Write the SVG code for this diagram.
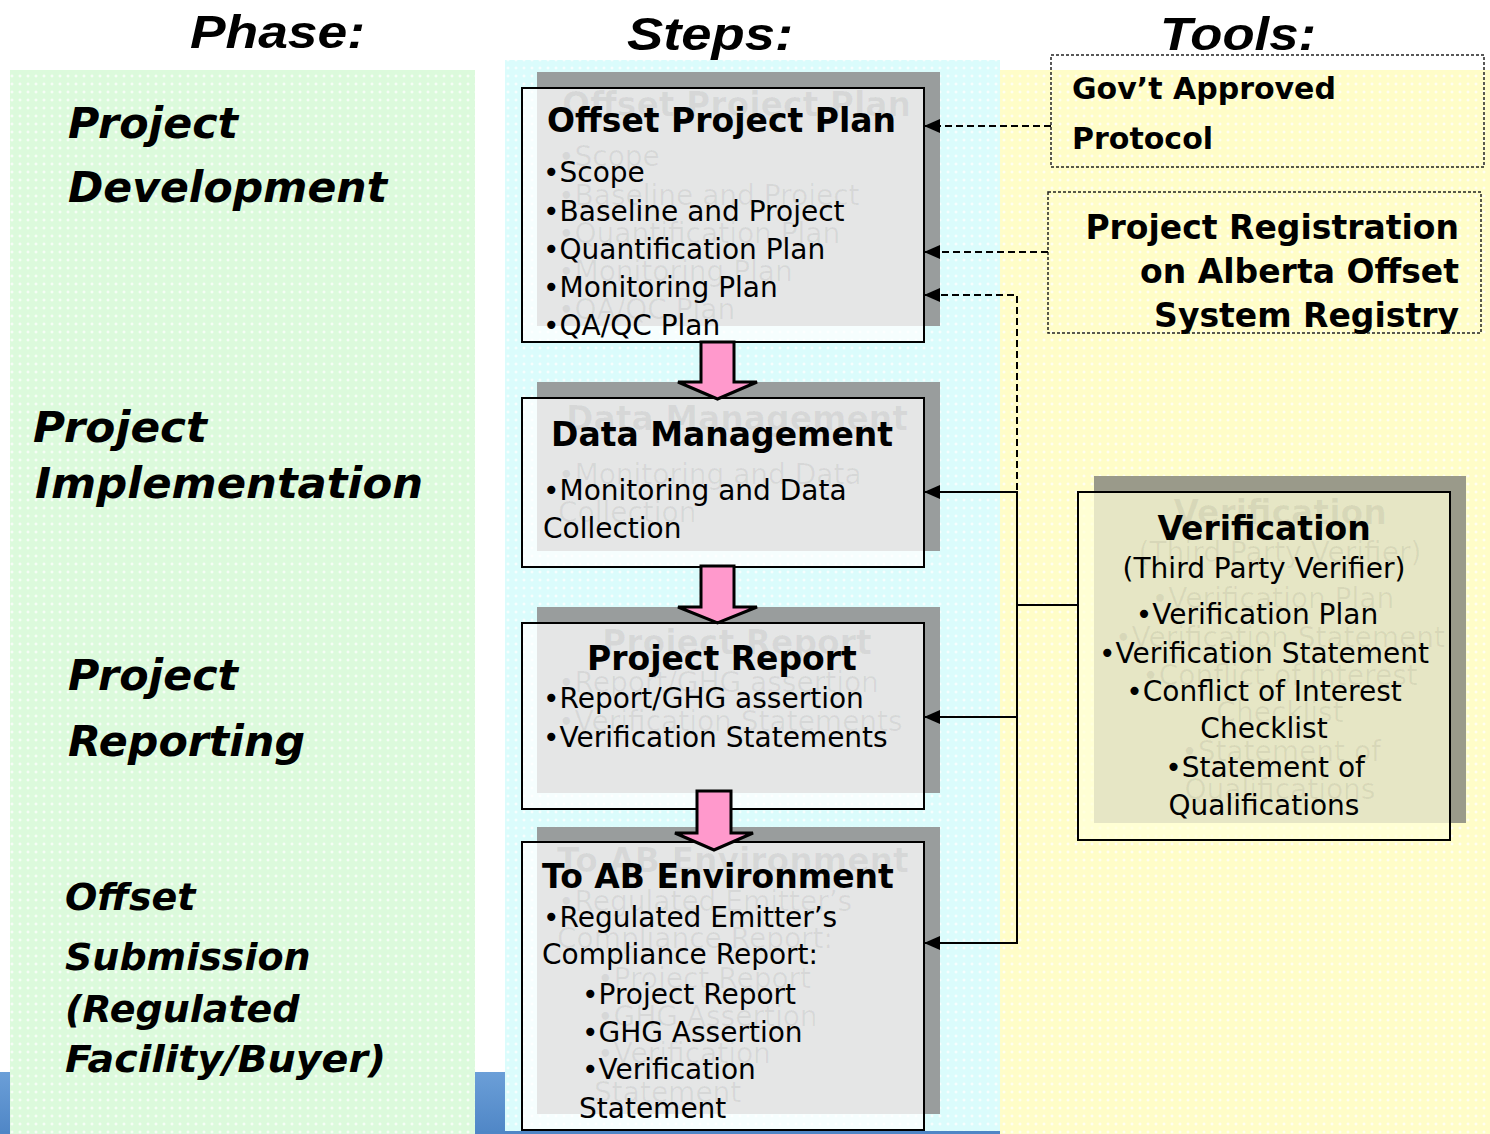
<svg xmlns="http://www.w3.org/2000/svg" width="1490" height="1134" viewBox="0 0 1490 1134">
<defs>
<style>
.title{font-family:"Liberation Sans",Arial,sans-serif;font-weight:bold;font-style:italic;font-size:47px;fill:#000}
.phase{font-family:"DejaVu Sans",Verdana,sans-serif;font-weight:bold;font-style:italic;font-size:42px;fill:#000}
.phs{font-size:38px}
.h{font-family:"DejaVu Sans",Verdana,sans-serif;font-weight:bold;font-size:33px;fill:#000}
.t30{font-size:30px}
.b{font-family:"DejaVu Sans",Verdana,sans-serif;font-size:28px;fill:#000}
.mid{text-anchor:middle}
.end{text-anchor:end}
.shadow{fill:#999d9d}
.vshadow{fill:#9a9a8a}
.front{fill:#fff;fill-opacity:.75;stroke:#000;stroke-width:2}
.vfront{fill:#ffffd8;fill-opacity:.75;stroke:#000;stroke-width:2}
.ghost text{fill:#000;fill-opacity:.06}
.dash{stroke:#000;stroke-width:2;stroke-dasharray:7 4;fill:none}
.solid{stroke:#000;stroke-width:2;fill:none}
.tool{fill:none;stroke:#222;stroke-width:1.5;stroke-dasharray:3 2}
.flow{fill:#ff99cc;stroke:#000;stroke-width:3;stroke-linejoin:miter}
</style>
<pattern id="pg" width="8" height="8" patternUnits="userSpaceOnUse"><rect width="8" height="8" fill="#dcfadc"/><path d="M4 2.5v3M2.5 4h3" stroke="#fff" stroke-width="1"/></pattern>
<pattern id="pc" width="8" height="8" patternUnits="userSpaceOnUse"><rect width="8" height="8" fill="#dbfcfc"/><path d="M4 2.5v3M2.5 4h3" stroke="#fff" stroke-width="1"/></pattern>
<pattern id="py" width="8" height="8" patternUnits="userSpaceOnUse"><rect width="8" height="8" fill="#fffdc8"/><path d="M4 2.5v3M2.5 4h3" stroke="#fff" stroke-width="1"/></pattern>
<linearGradient id="blue" x1="0" y1="0" x2="0" y2="1"><stop offset="0" stop-color="#6b9fd8"/><stop offset="1" stop-color="#4f86c6"/></linearGradient>
<marker id="ah" viewBox="0 0 16 14" refX="16" refY="7" markerWidth="16" markerHeight="14" markerUnits="userSpaceOnUse" orient="auto"><path d="M0,0 L16,7 L0,14 z" fill="#000"/></marker>
</defs>

<g id="background">
<rect x="0" y="0" width="1490" height="1134" fill="#fff"/>
<rect x="0" y="1072" width="505" height="62" fill="url(#blue)"/>
<rect x="0" y="1131" width="1000" height="3" fill="#4f86c6"/>
<rect x="10" y="70" width="465" height="1064" fill="url(#pg)"/>
<rect x="505" y="60" width="495" height="1071" fill="url(#pc)"/>
<rect x="1000" y="70" width="490" height="1064" fill="url(#py)"/>
</g>

<g id="headings">
<text class="title" x="190" y="48" textLength="175" lengthAdjust="spacingAndGlyphs">Phase:</text>
<text class="title" x="627" y="50" textLength="166" lengthAdjust="spacingAndGlyphs">Steps:</text>
<text class="title" x="1160" y="50" textLength="156" lengthAdjust="spacingAndGlyphs">Tools:</text>
</g>

<g id="phase-development">
<text class="phase" x="68" y="138" textLength="170" lengthAdjust="spacingAndGlyphs">Project</text>
<text class="phase" x="68" y="202" textLength="319" lengthAdjust="spacingAndGlyphs">Development</text>
</g>
<g id="phase-implementation">
<text class="phase" x="33" y="442" textLength="174" lengthAdjust="spacingAndGlyphs">Project</text>
<text class="phase" x="35" y="498" textLength="388" lengthAdjust="spacingAndGlyphs">Implementation</text>
</g>
<g id="phase-reporting">
<text class="phase" x="68" y="690" textLength="170" lengthAdjust="spacingAndGlyphs">Project</text>
<text class="phase" x="68" y="756" textLength="237" lengthAdjust="spacingAndGlyphs">Reporting</text>
</g>
<g id="phase-submission">
<text class="phase phs" x="65" y="910">Offset</text>
<text class="phase phs" x="65" y="970">Submission</text>
<text class="phase phs" x="65" y="1022">(Regulated</text>
<text class="phase phs" x="65" y="1072" textLength="321" lengthAdjust="spacingAndGlyphs">Facility/Buyer)</text>
</g>

<g id="step-offset-project-plan">
<rect class="shadow" x="537" y="72" width="403" height="254"/>
<rect class="front" x="522" y="88" width="402" height="254"/>
<g class="ghost" transform="translate(15,-16)">
<text class="h" x="547" y="132">Offset Project Plan</text>
<text class="b" x="543" y="182">•Scope</text>
<text class="b" x="543" y="221">•Baseline and Project</text>
<text class="b" x="543" y="259">•Quantification Plan</text>
<text class="b" x="543" y="297">•Monitoring Plan</text>
<text class="b" x="543" y="335">•QA/QC Plan</text>
</g>
<text class="h" x="547" y="132">Offset Project Plan</text>
<text class="b" x="543" y="182">•Scope</text>
<text class="b" x="543" y="221">•Baseline and Project</text>
<text class="b" x="543" y="259">•Quantification Plan</text>
<text class="b" x="543" y="297">•Monitoring Plan</text>
<text class="b" x="543" y="335">•QA/QC Plan</text>
</g>

<g id="step-data-management">
<rect class="shadow" x="537" y="382" width="403" height="169"/>
<rect class="front" x="522" y="398" width="402" height="169"/>
<g class="ghost" transform="translate(15,-16)">
<text class="h" x="551" y="446">Data Management</text>
<text class="b" x="543" y="500">•Monitoring and Data</text>
<text class="b" x="543" y="538">Collection</text>
</g>
<text class="h" x="551" y="446">Data Management</text>
<text class="b" x="543" y="500">•Monitoring and Data</text>
<text class="b" x="543" y="538">Collection</text>
</g>

<g id="step-project-report">
<rect class="shadow" x="537" y="607" width="403" height="186"/>
<rect class="front" x="522" y="623" width="402" height="186"/>
<g class="ghost" transform="translate(15,-16)">
<text class="h" x="587" y="670">Project Report</text>
<text class="b" x="543" y="708">•Report/GHG assertion</text>
<text class="b" x="543" y="747">•Verification Statements</text>
</g>
<text class="h" x="587" y="670">Project Report</text>
<text class="b" x="543" y="708">•Report/GHG assertion</text>
<text class="b" x="543" y="747">•Verification Statements</text>
</g>

<g id="step-to-ab-environment">
<rect class="shadow" x="537" y="827" width="403" height="287"/>
<rect class="front" x="522" y="842" width="402" height="288"/>
<g class="ghost" transform="translate(15,-16)">
<text class="h" x="542" y="888">To AB Environment</text>
<text class="b" x="543" y="927">•Regulated Emitter’s</text>
<text class="b" x="542" y="964">Compliance Report:</text>
<text class="b" x="582" y="1004">•Project Report</text>
<text class="b" x="582" y="1042">•GHG Assertion</text>
<text class="b" x="582" y="1079">•Verification</text>
<text class="b" x="579" y="1118">Statement</text>
</g>
<text class="h" x="542" y="888">To AB Environment</text>
<text class="b" x="543" y="927">•Regulated Emitter’s</text>
<text class="b" x="542" y="964">Compliance Report:</text>
<text class="b" x="582" y="1004">•Project Report</text>
<text class="b" x="582" y="1042">•GHG Assertion</text>
<text class="b" x="582" y="1079">•Verification</text>
<text class="b" x="579" y="1118">Statement</text>
</g>

<g id="tool-protocol">
<rect class="tool" x="1051" y="55" width="433" height="112"/>
<text class="h t30" x="1072" y="99">Gov’t Approved</text>
<text class="h t30" x="1072" y="149">Protocol</text>
</g>

<g id="tool-registry">
<rect class="tool" x="1048" y="192" width="433" height="141"/>
<text class="h end" x="1459" y="239">Project Registration</text>
<text class="h end" x="1459" y="283">on Alberta Offset</text>
<text class="h end" x="1459" y="327">System Registry</text>
</g>

<g id="tool-verification">
<rect class="vshadow" x="1094" y="476" width="372" height="347"/>
<rect class="vfront" x="1078" y="492" width="372" height="348"/>
<g class="ghost" transform="translate(16,-16)">
<text class="h mid" x="1264" y="540">Verification</text>
<text class="b mid" x="1264" y="578">(Third Party Verifier)</text>
<text class="b mid" x="1257" y="624">•Verification Plan</text>
<text class="b mid" x="1264" y="663">•Verification Statement</text>
<text class="b mid" x="1264" y="701">•Conflict of Interest</text>
<text class="b mid" x="1264" y="738">Checklist</text>
<text class="b mid" x="1265" y="777">•Statement of</text>
<text class="b mid" x="1264" y="815">Qualifications</text>
</g>
<text class="h mid" x="1264" y="540">Verification</text>
<text class="b mid" x="1264" y="578">(Third Party Verifier)</text>
<text class="b mid" x="1257" y="624">•Verification Plan</text>
<text class="b mid" x="1264" y="663">•Verification Statement</text>
<text class="b mid" x="1264" y="701">•Conflict of Interest</text>
<text class="b mid" x="1264" y="738">Checklist</text>
<text class="b mid" x="1265" y="777">•Statement of</text>
<text class="b mid" x="1264" y="815">Qualifications</text>
</g>

<g id="connectors">
<path class="flow" d="M701,342 L734,342 L734,382 L757,382 L717.5,399 L678,382 L701,382 Z"/>
<path class="flow" d="M701,566 L734,566 L734,607 L757,607 L717.5,623 L678,607 L701,607 Z"/>
<path class="flow" d="M697,791 L731,791 L731,833 L753,833 L714,850 L675,833 L697,833 Z"/>
<line class="dash" x1="1051" y1="126" x2="924" y2="126" marker-end="url(#ah)"/>
<line class="dash" x1="1048" y1="252" x2="924" y2="252" marker-end="url(#ah)"/>
<polyline class="dash" points="1017,490 1017,295 924,295" marker-end="url(#ah)"/>
<line class="solid" x1="1017" y1="492" x2="924" y2="492" marker-end="url(#ah)"/>
<line class="solid" x1="1017" y1="491" x2="1017" y2="944"/>
<line class="solid" x1="1017" y1="717" x2="924" y2="717" marker-end="url(#ah)"/>
<line class="solid" x1="1017" y1="943" x2="924" y2="943" marker-end="url(#ah)"/>
<line class="solid" x1="1016" y1="605" x2="1078" y2="605" stroke-width="3.5"/>
</g>
</svg>
